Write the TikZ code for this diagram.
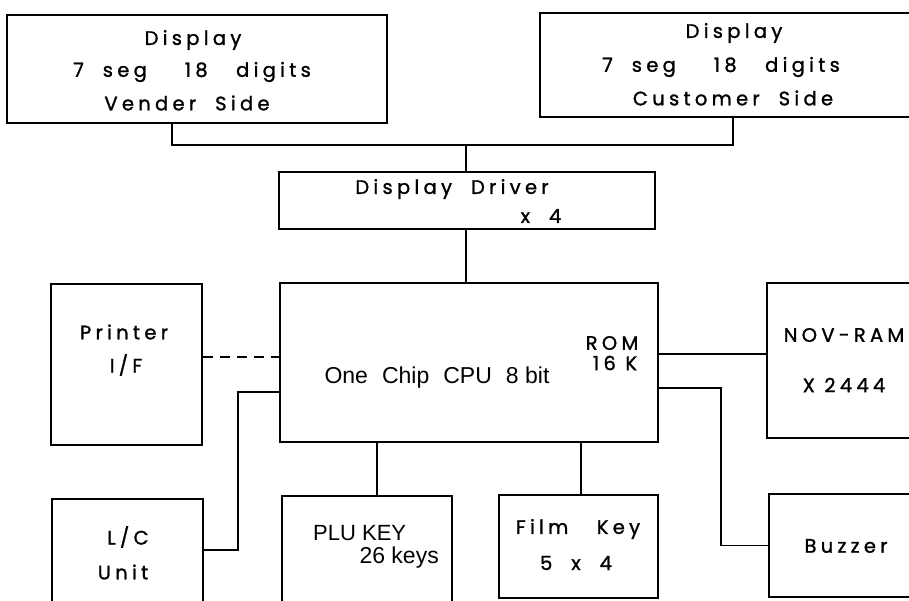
\documentclass[tikz,border=0pt]{standalone}
\usepackage{fontspec}
\setmainfont{Liberation Sans}
\newfontfamily\lett[LetterSpace=22,FakeBold=1.3]{Poppins}

\begin{document}
\begin{tikzpicture}[x=1pt,y=-1pt,
    box/.style={draw,line width=2.4pt,inner sep=0pt},
    link/.style={line width=1.6pt},
    lbl/.style={inner sep=0pt,font=\lett\fontsize{19.5}{21}\selectfont},
    hel/.style={inner sep=0pt,font=\fontsize{23}{25}\selectfont}]
    \useasboundingbox (0,0) rectangle (909,601);
    \clip (0,0) rectangle (909,601);
    % boxes
    \node[box,minimum width=380pt,minimum height=108pt] (vend) at (197,69) {};
    \node[box,minimum width=386pt,minimum height=104pt] (cust) at (733,65) {};
    \node[box,minimum width=376pt,minimum height=57pt] (drv) at (467,200.5) {};
    \node[box,minimum width=378pt,minimum height=159pt] (cpu) at (469,362.5) {};
    \node[box,minimum width=151pt,minimum height=161pt] (prn) at (126.5,364.5) {};
    \node[box,minimum width=151pt,minimum height=150pt] (lc) at (127.5,574) {};
    \node[box,minimum width=170pt,minimum height=150pt] (plu) at (367,571) {};
    \node[box,minimum width=159pt,minimum height=103pt] (film) at (578.5,546.5) {};
    \node[box,minimum width=170pt,minimum height=155pt] (nov) at (852,360.5) {};
    \node[box,minimum width=170pt,minimum height=103pt] (buz) at (854,545.5) {};
    % texts
    \node[lbl] (vend1) at (193,40) {Display};
    \node[lbl] (vend2) at (192,72) {7\ \ seg\ \ \ \ 18\ \ \ digits};
    \node[lbl] (vend3) at (187,103) {Vender\ \ Side};
    \node[lbl] (cust1) at (734,33) {Display};
    \node[lbl] (cust2) at (721,67) {7\ \ seg\ \ \ \ 18\ \ \ digits};
    \node[lbl] (cust3) at (733,98) {Customer\ \ Side};
    \node[lbl] (drv1) at (452,189) {Display\ \ Driver};
    \node[lbl] (drv2) at (541,216) {x\ \ 4};
    \node[hel] (cpu1) at (437,378) {One\,\, Chip\,\, CPU\,\, 8 bit};
    \node[lbl] (rom1) at (612,343) {ROM};
    \node[lbl] (rom2) at (615,363) {16 K};
    \node[lbl] (prn1) at (124,332) {Printer};
    \node[lbl] (prn2) at (126,365) {I/F};
    \node[lbl] (lc1) at (128,537) {L/C};
    \node[lbl] (lc2) at (123,572) {Unit};
    \node[hel,anchor=west,font=\fontsize{22}{24}\selectfont] (plu1) at (313,533) {PLU KEY};
    \node[hel,anchor=east] (plu2) at (439,558) {26 keys};
    \node[lbl] (film1) at (578,529) {Film\ \ \ Key};
    \node[lbl] (film2) at (576,563) {5\ \ x\ \ 4};
    \node[lbl] (nov1) at (844,335) {NOV-RAM};
    \node[lbl] (nov2) at (844,385) {X 2444};
    \node[lbl] (buz1) at (846,546) {Buzzer};
    % links
    \coordinate (bus) at (466,145);
    \draw[link] ([xshift=-25pt]vend.south) |- (bus) -| (cust.south);
    \draw[link] (bus) -- (bus |- drv.north);
    \draw[link] (drv.south -| bus) -- (cpu.north -| bus);
    \draw[link,dash pattern=on 10pt off 7pt] (prn.east |- 0,357) -- (cpu.west |- 0,357);
    \draw[link] (lc.east |- 0,550) -| (238,392) -- (cpu.west |- 0,392);
    \draw[link] (cpu.south -| 377,0) -- (plu.north -| 377,0);
    \draw[link] (cpu.south -| 581,0) -- (film.north -| 581,0);
    \draw[link] (cpu.east |- 0,354) -- (nov.west |- 0,354);
    \draw[link] (cpu.east |- 0,388) -- (721,388) |- (buz.west);
\end{tikzpicture}
\end{document}
